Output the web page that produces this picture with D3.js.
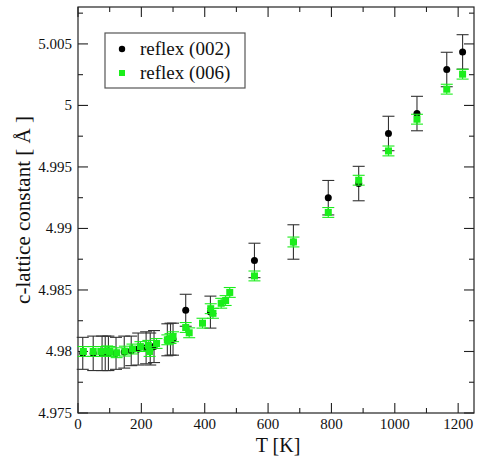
<!DOCTYPE html>
<html>
<head>
<meta charset="utf-8">
<script src="https://cdn.jsdelivr.net/npm/d3@7"></script>
<style>
  html, body { margin: 0; padding: 0; background: #fff; }
  svg { display: block; }
  svg text { font-family: 'Liberation Serif', 'DejaVu Serif', 'Times New Roman', Times, serif; fill: #111; }
</style>
</head>
<body>
<div id="chart"></div>
<script>
// reflex (002): temperature, c constant, error
const tempA = [15, 48, 76, 86, 96, 120, 146, 168, 190, 215, 228, 240, 282, 292, 300, 340, 418, 557, 680, 790, 886, 980, 1070, 1164, 1214]
const cA = [4.97985, 4.97985, 4.97985, 4.97985, 4.97985, 4.97985, 4.97995, 4.98005, 4.9802, 4.9803, 4.9802, 4.9804, 4.98095, 4.981, 4.981,
    4.98335, 4.9832, 4.9874, 4.9889, 4.9925, 4.99365, 4.99772, 4.99934, 5.00292, 5.00435]
const errA = [0.0013, 0.0014, 0.0014, 0.0014, 0.0014, 0.0013, 0.0013, 0.0012, 0.0013, 0.0013, 0.0013, 0.0013, 0.0013, 0.0013, 0.0013,
    0.0013, 0.0013, 0.0014, 0.0014, 0.0014, 0.0014, 0.0014, 0.0014, 0.0014, 0.0014]

// reflex (006)
const tempB = [17, 48, 72, 92, 100, 122, 148, 172, 197, 222, 226, 248, 282, 292, 300, 340, 351, 393, 419, 426, 452, 466, 479,
    557, 680, 790, 886, 980, 1070, 1164, 1214]
const cB = [4.98, 4.98, 4.98, 4.98005, 4.98, 4.9799, 4.98003, 4.9802, 4.9804, 4.9805, 4.98, 4.98065, 4.98095, 4.98105, 4.9812,
    4.98195, 4.98152, 4.9823, 4.98348, 4.9831, 4.98392, 4.98414, 4.9848,
    4.98614, 4.9889, 4.9913, 4.99392, 4.9963, 4.99888, 5.00132, 5.00254]
const errB = [0.0004, 0.0004, 0.0004, 0.0004, 0.0004, 0.0004, 0.0004, 0.0004, 0.0004, 0.0004, 0.0004, 0.0004, 0.0004, 0.0004, 0.0004,
    0.0004, 0.0004, 0.0004, 0.0004, 0.0004, 0.0004, 0.0004, 0.0004,
    0.0004, 0.0004, 0.0004, 0.0004, 0.0004, 0.0004, 0.0004, 0.0004]

const xTicks = [0, 200, 400, 600, 800, 1000, 1200]
const yTicks = [4.975, 4.98, 4.985, 4.99, 4.995, 5, 5.005]
const yTickLabels = ['4.975', '4.98', '4.985', '4.99', '4.995', '5', '5.005']
const seriesNames = ['reflex (002)', 'reflex (006)']

const w = 477
const h = 457
const margin = { top: 7, right: 3, bottom: 44, left: 78 }
const GREEN = '#1bee1b'

const svg = d3.select('#chart').append('svg').attr('width', w).attr('height', h)

const x = d3.scaleLinear().domain([0, 1250]).range([margin.left, w - margin.right])
const y = d3.scaleLinear().domain([4.975, 5.008]).range([h - margin.bottom, margin.top])

const x0 = margin.left, x1 = w - margin.right, y0 = h - margin.bottom, y1 = margin.top
const axisColor = '#222'

// frame
svg.append('rect')
    .attr('x', x0).attr('y', y1)
    .attr('width', x1 - x0).attr('height', y0 - y1)
    .attr('fill', 'none').attr('stroke', axisColor).attr('stroke-width', 1.2)

// ticks on all four sides, pointing inward
const xMinor = d3.range(100, 1250, 200)
const yMinor = d3.range(4.9775, 5.008, 0.005)
const tickG = svg.append('g').attr('stroke', axisColor).attr('stroke-width', 1.1)
xTicks.forEach(t => {
    tickG.append('line').attr('x1', x(t)).attr('x2', x(t)).attr('y1', y0).attr('y2', y0 - 10)
    tickG.append('line').attr('x1', x(t)).attr('x2', x(t)).attr('y1', y1).attr('y2', y1 + 10)
})
xMinor.forEach(t => {
    tickG.append('line').attr('x1', x(t)).attr('x2', x(t)).attr('y1', y0).attr('y2', y0 - 5)
    tickG.append('line').attr('x1', x(t)).attr('x2', x(t)).attr('y1', y1).attr('y2', y1 + 5)
})
yTicks.forEach(t => {
    tickG.append('line').attr('x1', x0).attr('x2', x0 + 10).attr('y1', y(t)).attr('y2', y(t))
    tickG.append('line').attr('x1', x1).attr('x2', x1 - 10).attr('y1', y(t)).attr('y2', y(t))
})
yMinor.forEach(t => {
    tickG.append('line').attr('x1', x0).attr('x2', x0 + 5).attr('y1', y(t)).attr('y2', y(t))
    tickG.append('line').attr('x1', x1).attr('x2', x1 - 5).attr('y1', y(t)).attr('y2', y(t))
})

// tick labels
svg.selectAll('.xlab')
    .data(xTicks).enter()
    .append('text')
    .attr('x', d => x(d)).attr('y', y0 + 16)
    .attr('text-anchor', 'middle')
    .attr('font-size', '15px')
    .text(d => d)

svg.selectAll('.ylab')
    .data(yTicks).enter()
    .append('text')
    .attr('x', x0 - 6).attr('y', d => y(d) + 5)
    .attr('text-anchor', 'end')
    .attr('font-size', '15px')
    .text((d, i) => yTickLabels[i])

// axis titles
svg.append('text')
    .attr('x', (x0 + x1) / 2 + 2).attr('y', h - 5)
    .attr('text-anchor', 'middle')
    .attr('font-size', '20px')
    .text('T [K]')

svg.append('text')
    .attr('transform', `translate(30, ${(y0 + y1) / 2}) rotate(-90)`)
    .attr('text-anchor', 'middle')
    .attr('font-size', '21px')
    .text('c-lattice constant [ Å ]')

function errorBars(g, temps, vals, errs, color, capW, sw) {
    temps.forEach((t, i) => {
        const cx = x(t), ya = y(vals[i] + errs[i]), yb = y(vals[i] - errs[i])
        g.append('line').attr('x1', cx).attr('x2', cx).attr('y1', ya).attr('y2', yb)
            .attr('stroke', color).attr('stroke-width', sw)
        g.append('line').attr('x1', cx - capW / 2).attr('x2', cx + capW / 2).attr('y1', ya).attr('y2', ya)
            .attr('stroke', color).attr('stroke-width', sw)
        g.append('line').attr('x1', cx - capW / 2).attr('x2', cx + capW / 2).attr('y1', yb).attr('y2', yb)
            .attr('stroke', color).attr('stroke-width', sw)
    })
}

const plot = svg.append('g')
errorBars(plot, tempA, cA, errA, '#333', 12, 1.1)
plot.selectAll('.dotA')
    .data(tempA).enter()
    .append('circle')
    .attr('cx', d => x(d)).attr('cy', (d, i) => y(cA[i]))
    .attr('r', 3.5).attr('fill', '#000')

errorBars(plot, tempB, cB, errB, GREEN, 12, 1.1)
plot.selectAll('.sqB')
    .data(tempB).enter()
    .append('rect')
    .attr('x', d => x(d) - 3.5).attr('y', (d, i) => y(cB[i]) - 3.5)
    .attr('width', 7).attr('height', 7).attr('fill', GREEN)

// Legend
const legend = svg.append('g').attr('transform', 'translate(105, 33)')
legend.append('rect').attr('width', 140).attr('height', 55)
    .attr('fill', '#fff').attr('stroke', '#555').attr('stroke-width', 1.2)
legend.append('circle').attr('cx', 17).attr('cy', 16).attr('r', 3.2).attr('fill', '#000')
legend.append('rect').attr('x', 14).attr('y', 37).attr('width', 6).attr('height', 6).attr('fill', GREEN)
seriesNames.forEach((s, i) => {
    legend.append('text').attr('x', 35).attr('y', 22 + i * 24)
        .attr('font-size', '19px')
        .text(s)
})
</script>
</body>
</html>
